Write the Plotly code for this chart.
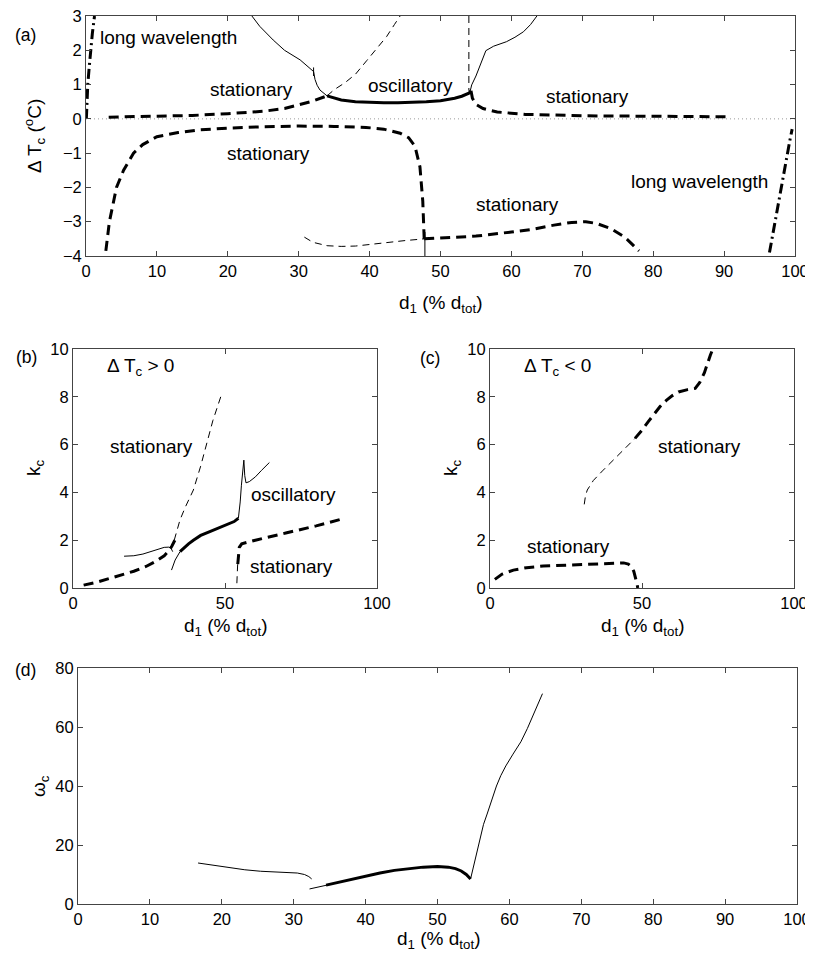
import plotly.graph_objects as go

W, H = 813, 957
OFF = 8  # default page margin of the html body
FONT = "Liberation Sans, Arial, Helvetica, sans-serif"

# ---------------- Panel (a): Delta T_c vs d1 ----------------
a_lw_left_x = [0.05, 0.1, 0.25, 0.45, 0.65, 0.9, 1.2]
a_lw_left_y = [0.0, 0.5, 1.0, 1.5, 2.0, 2.5, 3.0]

a_lw_right_x = [96.4, 97.0, 97.6, 98.2, 98.9, 99.3, 99.6]
a_lw_right_y = [-3.9, -3.2, -2.5, -1.8, -1.0, -0.6, -0.3]

a_st_up_left_x = [3.2, 10, 15, 20, 25, 28, 30, 32, 34]
a_st_up_left_y = [0.05, 0.08, 0.1, 0.15, 0.22, 0.3, 0.4, 0.52, 0.67]

a_osc_x = [34, 35, 36, 38, 40, 42, 44, 46, 48, 50, 52, 53, 54, 54.3]
a_osc_y = [0.67, 0.6, 0.55, 0.5, 0.48, 0.47, 0.47, 0.48, 0.5, 0.53, 0.6, 0.66, 0.75, 0.82]

a_st_up_right_x = [54.3, 54.5, 55, 56, 58, 62, 70, 80, 91]
a_st_up_right_y = [0.82, 0.6, 0.42, 0.3, 0.2, 0.13, 0.09, 0.07, 0.06]

a_st_low1_x = [2.8, 3.3, 4.3, 5.3, 6.7, 8, 10, 13, 16, 20, 25, 30, 35, 39.5, 42, 44.3, 45.5, 46.4, 47.1, 47.5, 47.7]
a_st_low1_y = [-3.85, -3.0, -2.0, -1.5, -1.0, -0.75, -0.52, -0.4, -0.32, -0.27, -0.23, -0.21, -0.22, -0.25, -0.3, -0.42, -0.55, -0.8, -1.4, -2.4, -3.5]

a_st_low2_x = [47.7, 50, 55, 60, 63, 66, 68.5, 70.5, 72, 74, 76, 78]
a_st_low2_y = [-3.5, -3.47, -3.42, -3.3, -3.22, -3.1, -3.02, -3.0, -3.05, -3.2, -3.45, -3.85]

a_thin_low_x = [30.8, 32, 34, 36, 38, 41.5, 45, 47.7]
a_thin_low_y = [-3.45, -3.6, -3.7, -3.72, -3.71, -3.62, -3.55, -3.5]

a_thin_vlow_x = [47.8, 47.8]
a_thin_vlow_y = [-3.3, -4.0]

a_thin_sol_left_x = [23.4, 24.5, 26.4, 28, 30.2, 31.3, 32.1, 32.3, 32.6, 33, 33.5, 34]
a_thin_sol_left_y = [3.0, 2.7, 2.3, 2.0, 1.72, 1.52, 1.38, 1.15, 0.98, 0.84, 0.74, 0.67]

a_cusp_x = [32.1, 32.1]
a_cusp_y = [1.25, 1.5]

a_thin_dash_up_x = [34, 35, 36.5, 38, 39.6, 41, 42.4, 43.5, 44.3]
a_thin_dash_up_y = [0.67, 0.85, 1.05, 1.3, 1.7, 2.05, 2.4, 2.75, 3.0]

a_thin_vert_x = [54.0, 54.0]
a_thin_vert_y = [3.0, 0.82]

a_thin_sol_right_x = [54.2, 54.4, 55, 55.6, 56.4, 57.5, 59.3, 60.5, 61.7, 62.7, 63.6]
a_thin_sol_right_y = [0.82, 0.99, 1.25, 1.57, 1.99, 2.12, 2.25, 2.38, 2.54, 2.75, 3.0]

a_zero_x = [0, 100]
a_zero_y = [0, 0]

# ---------------- Panel (b): k_c, Delta T_c > 0 ----------------
b_st_dash_x = [3.5, 8, 12, 16, 20, 24, 27, 30, 31.5, 32.5, 33.5]
b_st_dash_y = [0.12, 0.25, 0.4, 0.55, 0.7, 0.9, 1.1, 1.35, 1.55, 1.75, 2.0]

b_thin_dash_x = [33.3, 35.2, 37, 39.6, 42, 44, 46, 48.6]
b_thin_dash_y = [2.0, 2.85, 3.4, 4.1, 5.1, 6.05, 7.0, 8.0]

b_thin_sol1_x = [16.8, 20, 23, 25.5, 28, 30, 31.5, 32.3, 32.8]
b_thin_sol1_y = [1.33, 1.35, 1.42, 1.52, 1.63, 1.7, 1.71, 1.65, 1.52]

b_thin_sol2_x = [32.4, 33.6, 35.2]
b_thin_sol2_y = [0.75, 1.17, 1.52]

b_osc_x = [35.2, 36.3, 38, 39.6, 42, 45, 48, 50.6, 53, 54.4]
b_osc_y = [1.52, 1.66, 1.85, 2.0, 2.2, 2.36, 2.52, 2.64, 2.78, 2.92]

b_thin_sol3_x = [54.4, 54.7, 55, 55.4, 55.8, 56.2, 56.5, 56.9, 58, 60, 62, 64.6]
b_thin_sol3_y = [2.92, 3.2, 3.6, 4.3, 4.8, 5.35, 4.7, 4.4, 4.45, 4.65, 4.92, 5.25]

b_thin_dash2_x = [53.9, 54.0, 54.2]
b_thin_dash2_y = [0.2, 0.8, 1.1]

b_st_dash2_x = [54.2, 54.4, 54.7, 55.5, 60, 70, 80, 89.5]
b_st_dash2_y = [1.0, 1.4, 1.7, 1.85, 2.0, 2.3, 2.6, 2.92]

# ---------------- Panel (c): k_c, Delta T_c < 0 ----------------
c_st_low_x = [1.6, 4, 7.7, 12, 17.5, 25, 34, 38, 41.7, 44, 45.5, 46.5, 47.3, 47.9, 48.4, 48.6]
c_st_low_y = [0.36, 0.58, 0.75, 0.85, 0.92, 0.96, 1.0, 1.02, 1.05, 1.05, 1.0, 0.9, 0.7, 0.45, 0.15, 0.0]

c_thin_dash_x = [31, 31.4, 32, 34, 37, 40, 43, 45, 47.7]
c_thin_dash_y = [3.5, 3.85, 4.1, 4.5, 4.9, 5.28, 5.65, 5.9, 6.26]

c_st_up_x = [47.7, 50, 52, 54, 56, 58, 60, 62, 65, 67.5, 69, 70.5, 71.5, 72.5, 73.3]
c_st_up_y = [6.26, 6.6, 6.95, 7.3, 7.6, 7.85, 8.05, 8.2, 8.3, 8.35, 8.6, 9.0, 9.4, 9.75, 10.0]

# ---------------- Panel (d): omega_c ----------------
d_thin1_x = [16.7, 19, 21, 23.2, 25.4, 27, 29, 30.5, 31.5, 32.1, 32.5]
d_thin1_y = [13.9, 13.1, 12.4, 11.6, 11.1, 10.95, 10.85, 10.5, 10.0, 9.3, 8.5]

d_thin2_x = [32.2, 33.5, 34.8]
d_thin2_y = [5.1, 5.8, 6.5]

d_osc_x = [34.5, 37, 40, 42, 44, 46, 48, 50, 51.5, 52.5, 53.3, 54, 54.6]
d_osc_y = [6.4, 7.8, 9.5, 10.5, 11.4, 12.0, 12.5, 12.7, 12.5, 12.0, 11.2, 10.0, 8.5]

d_thin3_x = [54.6, 55.2, 55.8, 56.4, 56.9, 57.5, 58.2, 58.8, 59.5, 60.5, 61.6, 62.5, 63.5, 64.6]
d_thin3_y = [8.5, 15, 21, 27, 30.5, 35, 40, 43.5, 46.8, 50.8, 55, 59.5, 65, 71.3]

x_ticks_a = [0, 10, 20, 30, 40, 50, 60, 70, 80, 90, 100]
y_ticks_a = [-4, -3, -2, -1, 0, 1, 2, 3]
x_ticks_bc = [0, 50, 100]
y_ticks_bc = [0, 2, 4, 6, 8, 10]
x_ticks_d = [0, 10, 20, 30, 40, 50, 60, 70, 80, 90, 100]
y_ticks_d = [0, 20, 40, 60, 80]

# ---------------- styles ----------------
THICK_DASH = dict(color="black", width=3, dash="10px,6px")
THIN_DASH = dict(color="black", width=1, dash="7px,5px")
THICK_SOLID = dict(color="black", width=3)
THIN_SOLID = dict(color="black", width=1)
DASH_DOT = dict(color="black", width=3, dash="10px,4px,2px,4px")
DOTTED = dict(color="#999999", width=1, dash="1px,3px")

fig = go.Figure()


def add(x, y, line, xa="x", ya="y"):
    fig.add_trace(go.Scatter(x=x, y=y, mode="lines", line=line, xaxis=xa, yaxis=ya,
                             showlegend=False, hoverinfo="skip"))


# panel a
add(a_zero_x, a_zero_y, DOTTED)
add(a_lw_left_x, a_lw_left_y, DASH_DOT)
add(a_lw_right_x, a_lw_right_y, DASH_DOT)
add(a_st_up_left_x, a_st_up_left_y, THICK_DASH)
add(a_osc_x, a_osc_y, THICK_SOLID)
add(a_st_up_right_x, a_st_up_right_y, THICK_DASH)
add(a_st_low1_x, a_st_low1_y, THICK_DASH)
add(a_st_low2_x, a_st_low2_y, THICK_DASH)
add(a_thin_low_x, a_thin_low_y, THIN_DASH)
add(a_thin_vlow_x, a_thin_vlow_y, THIN_SOLID)
add(a_thin_sol_left_x, a_thin_sol_left_y, THIN_SOLID)
add(a_cusp_x, a_cusp_y, THIN_SOLID)
add(a_thin_dash_up_x, a_thin_dash_up_y, THIN_DASH)
add(a_thin_vert_x, a_thin_vert_y, THIN_DASH)
add(a_thin_sol_right_x, a_thin_sol_right_y, THIN_SOLID)

# panel b
add(b_st_dash_x, b_st_dash_y, THICK_DASH, "x2", "y2")
add(b_thin_dash_x, b_thin_dash_y, THIN_DASH, "x2", "y2")
add(b_thin_sol1_x, b_thin_sol1_y, THIN_SOLID, "x2", "y2")
add(b_thin_sol2_x, b_thin_sol2_y, THIN_SOLID, "x2", "y2")
add(b_osc_x, b_osc_y, THICK_SOLID, "x2", "y2")
add(b_thin_sol3_x, b_thin_sol3_y, THIN_SOLID, "x2", "y2")
add(b_thin_dash2_x, b_thin_dash2_y, THIN_DASH, "x2", "y2")
add(b_st_dash2_x, b_st_dash2_y, THICK_DASH, "x2", "y2")

# panel c
add(c_st_low_x, c_st_low_y, THICK_DASH, "x3", "y3")
add(c_thin_dash_x, c_thin_dash_y, THIN_DASH, "x3", "y3")
add(c_st_up_x, c_st_up_y, THICK_DASH, "x3", "y3")

# panel d
add(d_thin1_x, d_thin1_y, THIN_SOLID, "x4", "y4")
add(d_thin2_x, d_thin2_y, THIN_SOLID, "x4", "y4")
add(d_osc_x, d_osc_y, THICK_SOLID, "x4", "y4")
add(d_thin3_x, d_thin3_y, THIN_SOLID, "x4", "y4")


def px_x(p):
    return (p - OFF) / W


def px_y(p):
    return 1 - (p - OFF) / H


AX = dict(showline=True, linecolor="#444444", linewidth=1, mirror="ticks", ticks="inside",
          ticklen=5, tickcolor="#444444", showgrid=False, zeroline=False,
          ticklabeloverflow="allow",
          tickfont=dict(family=FONT, size=16.5, color="black"))

fig.update_layout(
    width=W, height=H,
    margin=dict(l=0, r=0, t=0, b=0, autoexpand=False),
    paper_bgcolor="white", plot_bgcolor="white",
    font=dict(family=FONT, color="black"),
    xaxis=dict(AX, domain=[px_x(86), px_x(795)], range=[0, 100], tickvals=x_ticks_a, anchor="y"),
    yaxis=dict(AX, domain=[px_y(256), px_y(16)], range=[-4, 3], tickvals=y_ticks_a, anchor="x"),
    xaxis2=dict(AX, domain=[px_x(73), px_x(377)], range=[0, 100], tickvals=x_ticks_bc, anchor="y2"),
    yaxis2=dict(AX, domain=[px_y(588), px_y(349)], range=[0, 10], tickvals=y_ticks_bc, anchor="x2"),
    xaxis3=dict(AX, domain=[px_x(490), px_x(794)], range=[0, 100], tickvals=x_ticks_bc, anchor="y3"),
    yaxis3=dict(AX, domain=[px_y(588), px_y(349)], range=[0, 10], tickvals=y_ticks_bc, anchor="x3"),
    xaxis4=dict(AX, domain=[px_x(78), px_x(797)], range=[0, 100], tickvals=x_ticks_d, anchor="y4"),
    yaxis4=dict(AX, domain=[px_y(904), px_y(668)], range=[0, 80], tickvals=y_ticks_d, anchor="x4"),
)


def note(text, x, y, xref="x", yref="y", xanchor="center", yanchor="middle", size=19, angle=0):
    fig.add_annotation(text=text, x=x, y=y, xref=xref, yref=yref, showarrow=False,
                       xanchor=xanchor, yanchor=yanchor, textangle=angle,
                       font=dict(family=FONT, size=size, color="black"))


# in-plot labels (a)
note("long wavelength", 11.7, 2.37)
note("stationary", 23.3, 0.86)
note("oscillatory", 45.7, 0.97)
note("stationary", 70.8, 0.65)
note("stationary", 25.8, -1.02)
note("stationary", 60.8, -2.51)
note("long wavelength", 86.5, -1.83)

# (b)
note("Δ T<sub>c</sub> &gt; 0", 10.5, 9.25, "x2", "y2", xanchor="left")
note("stationary", 25.8, 5.9, "x2", "y2")
note("oscillatory", 72.5, 3.93, "x2", "y2")
note("stationary", 72.0, 0.89, "x2", "y2")

# (c)
note("Δ T<sub>c</sub> &lt; 0", 10.4, 9.25, "x3", "y3", xanchor="left")
note("stationary", 68.9, 5.9, "x3", "y3")
note("stationary", 25.8, 1.73, "x3", "y3")

# axis titles
XT = "d<sub>1</sub> (% d<sub>tot</sub>)"
note(XT, px_x(440), px_y(304), "paper", "paper")
note(XT, px_x(225), px_y(627), "paper", "paper")
note(XT, px_x(642), px_y(627), "paper", "paper")
note(XT, px_x(438), px_y(940), "paper", "paper")

note("Δ T<sub>c</sub> (<sup>o</sup>C)", px_x(35), px_y(136), "paper", "paper", angle=-90)
note("k<sub>c</sub>", px_x(35), px_y(468), "paper", "paper", angle=-90)
note("k<sub>c</sub>", px_x(452), px_y(468), "paper", "paper", angle=-90)
note("ω<sub>c</sub>", px_x(40), px_y(786), "paper", "paper", angle=-90)

# panel letters
note("(a)", px_x(25), px_y(35), "paper", "paper", size=17.5)
note("(b)", px_x(26), px_y(357), "paper", "paper", size=17.5)
note("(c)", px_x(430), px_y(358), "paper", "paper", size=17.5)
note("(d)", px_x(25), px_y(670), "paper", "paper", size=17.5)

fig.write_html("out.html")
